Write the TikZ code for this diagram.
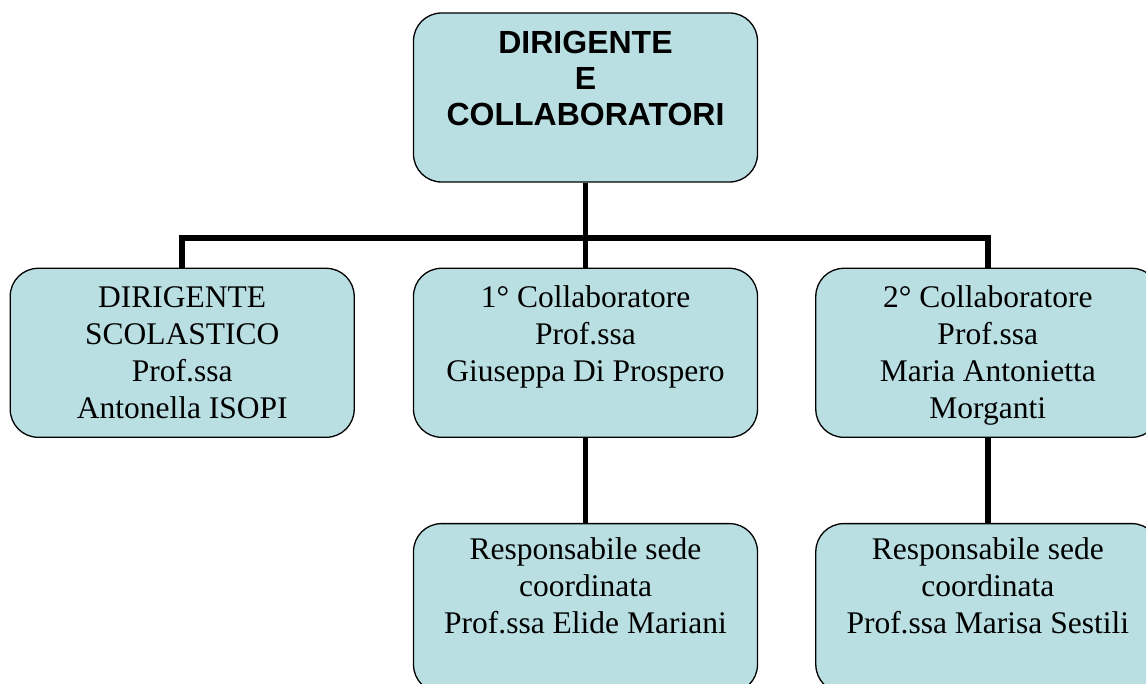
\documentclass[tikz,border=0pt]{standalone}
\usepackage{fontspec}
\setmainfont{Liberation Serif}
\newfontfamily\headfont{Liberation Sans}
\usetikzlibrary{positioning}

\definecolor{unitfill}{HTML}{B9DFE3}

% box content: top aligned lines in a fixed frame
\newcommand{\unitlines}[2]{%
  \parbox[c][169pt][t]{344pt}{\centering\vspace*{#1}\rule{0pt}{22pt}#2}}

\tikzset{
  unit/.style={draw, fill=unitfill, line width=1.3pt, rounded corners=28pt,
    inner sep=0pt, font=\fontsize{31.5}{37}\selectfont},
  link/.style={line width=5.5pt}
}

\begin{document}
\begin{tikzpicture}
    \useasboundingbox (0,0) rectangle (1146pt,-684pt);
    \clip (0,0) rectangle (1146pt,-684pt);

    % top level
    \node[unit, font=\headfont\bfseries\fontsize{32}{36}\selectfont] (dir) at (585.5pt,-97.5pt)
        {\unitlines{18pt}{DIRIGENTE\\E\\COLLABORATORI}};

    % second level
    \node[unit, below=85pt of dir] (coll1)
        {\unitlines{17pt}{1° Collaboratore\\Prof.ssa\\Giuseppa Di Prospero}};
    \node[unit, left=58pt of coll1] (dirsc)
        {\unitlines{17pt}{DIRIGENTE\\SCOLASTICO\\Prof.ssa\\Antonella ISOPI}};
    \node[unit, right=57pt of coll1] (coll2)
        {\unitlines{17pt}{2° Collaboratore\\Prof.ssa\\Maria Antonietta\\Morganti}};

    % third level
    \node[unit, below=85pt of coll1] (resp1)
        {\unitlines{14pt}{Responsabile sede\\coordinata\\Prof.ssa Elide Mariani}};
    \node[unit, below=85pt of coll2] (resp2)
        {\unitlines{14pt}{Responsabile sede\\coordinata\\Prof.ssa Marisa Sestili}};

    % connectors
    \coordinate (bus) at ([yshift=-55.5pt]dir.south);
    \draw[link] (dir.south) -- (coll1.north);
    \draw[link] (dirsc.north) |- (bus) -| (coll2.north);
    \draw[link] (coll1.south) -- (resp1.north);
    \draw[link] (coll2.south) -- (resp2.north);
\end{tikzpicture}
\end{document}
